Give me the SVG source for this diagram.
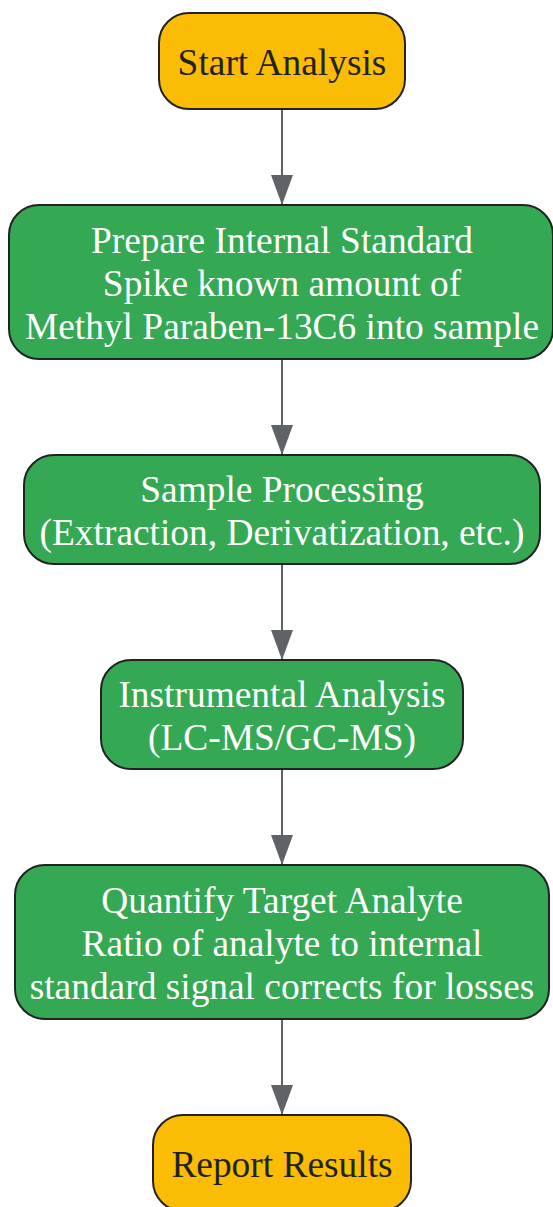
<svg xmlns="http://www.w3.org/2000/svg" width="553" height="1207" viewBox="0 0 553 1207">
<defs>
<marker id="ah" viewBox="0 0 30 22" refX="30" refY="11" markerWidth="30" markerHeight="22" markerUnits="userSpaceOnUse" orient="auto">
<path d="M0,0 L30,11 L0,22 Z" fill="#5f6368"/>
</marker>
<style>
.term rect{fill:#fbbc05;stroke:#222;stroke-width:2}
.proc rect{fill:#34a853;stroke:#222;stroke-width:2}
text{font-family:"Liberation Serif","Times New Roman",serif;font-size:37.4px;text-anchor:middle}
.term text{fill:#222}
.proc text{fill:#fff}
.edge{stroke:#5f6368;stroke-width:2;fill:none;marker-end:url(#ah)}
</style>
</defs>
<rect width="553" height="1207" fill="#fff"/>
<g id="connectors">
<path class="edge" d="M282,109 L282,205"/>
<path class="edge" d="M282,359 L282,455"/>
<path class="edge" d="M282,564 L282,660"/>
<path class="edge" d="M282,769 L282,865"/>
<path class="edge" d="M282,1019 L282,1115"/>
</g>
<g id="start" class="term">
<rect x="159" y="13" width="246" height="96" rx="30"/>
<text x="282" y="75">Start Analysis</text>
</g>
<g id="prepare" class="proc">
<rect x="9" y="205" width="544" height="154" rx="30"/>
<text x="282" y="253">Prepare Internal Standard</text>
<text x="282" y="296">Spike known amount of</text>
<text x="282" y="339">Methyl Paraben-13C6 into sample</text>
</g>
<g id="processing" class="proc">
<rect x="24" y="455" width="516" height="109" rx="30"/>
<text x="282" y="502">Sample Processing</text>
<text x="282" y="545">(Extraction, Derivatization, etc.)</text>
</g>
<g id="instrumental" class="proc">
<rect x="101" y="660" width="362" height="109" rx="30"/>
<text x="282" y="707">Instrumental Analysis</text>
<text x="282" y="750">(LC-MS/GC-MS)</text>
</g>
<g id="quantify" class="proc">
<rect x="15" y="865" width="534" height="154" rx="30"/>
<text x="282" y="913">Quantify Target Analyte</text>
<text x="282" y="956">Ratio of analyte to internal</text>
<text x="282" y="999">standard signal corrects for losses</text>
</g>
<g id="report" class="term">
<rect x="153" y="1115" width="258" height="96" rx="30"/>
<text x="282" y="1177">Report Results</text>
</g>
</svg>
